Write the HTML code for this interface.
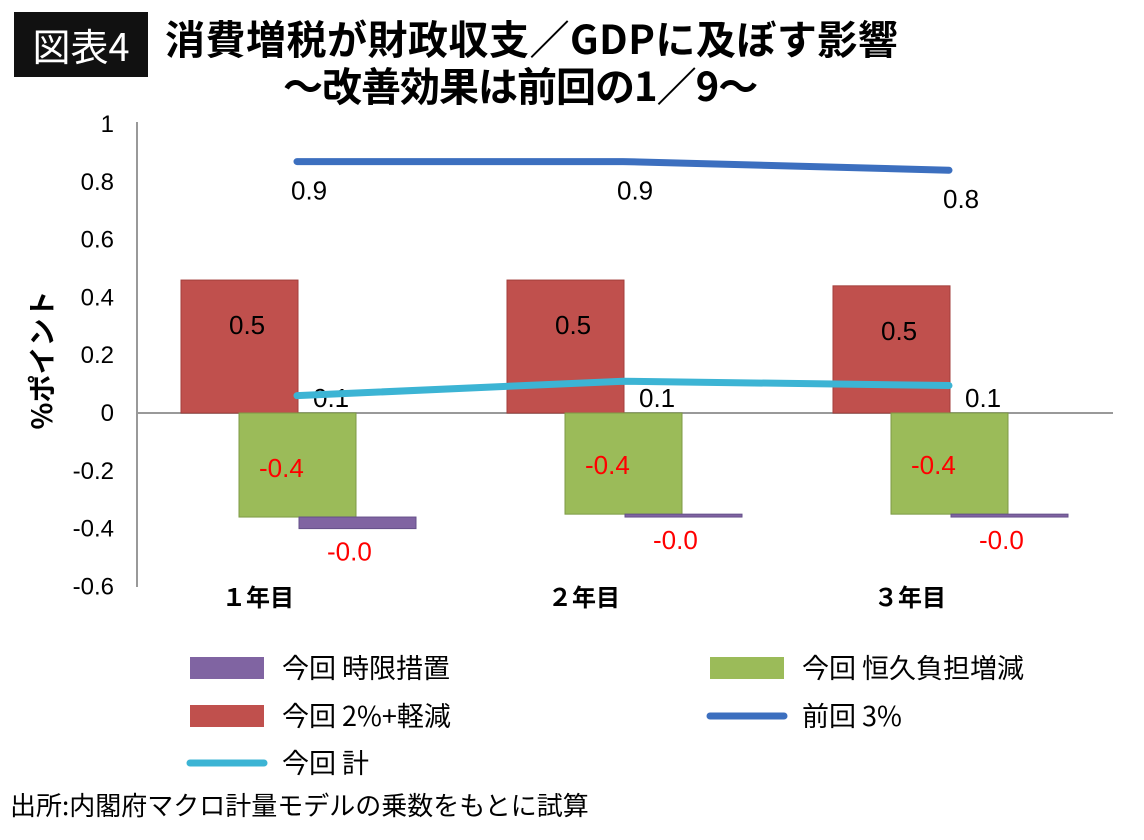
<!DOCTYPE html>
<html><head><meta charset="utf-8"><style>
body{margin:0;width:1144px;height:840px;background:#fff;font-family:"Liberation Sans","Noto Sans CJK JP",sans-serif;overflow:hidden;position:relative}
.t{position:absolute;white-space:nowrap}
</style></head><body>
<div class="t" style="left:14px;top:12px;width:134px;height:65px;background:#111;color:#fff;font-size:38px;line-height:65px;text-align:center;font-family:'Noto Sans CJK JP',sans-serif">図表4</div>
<div class="t" style="left:165px;top:13px;font-size:40px;font-weight:bold;font-family:'Noto Sans CJK JP',sans-serif;line-height:48px;letter-spacing:0.5px">消費増税が財政収支／GDPに及ぼす影響</div>
<div class="t" style="left:283px;top:61px;font-size:40px;font-weight:bold;font-family:'Noto Sans CJK JP',sans-serif;line-height:46px;letter-spacing:-1px">～改善効果は前回の1／9～</div>
<svg id="c" width="1144" height="840" style="position:absolute;left:0;top:0"></svg>
<div class="t" style="left:10px;top:786px;font-size:26px;font-family:'Noto Sans CJK JP',sans-serif">出所:内閣府マクロ計量モデルの乗数をもとに試算</div>
<script>
const categories=["１年目","２年目","３年目"];
const red=[0.46,0.46,0.44];
const green=[-0.36,-0.35,-0.35];
const purple=[-0.04,-0.01,-0.01];
const prev=[0.87,0.87,0.84];
const total=[0.06,0.11,0.095];
const prevLbl=["0.9","0.9","0.8"],redLbl=["0.5","0.5","0.5"],greenLbl=["-0.4","-0.4","-0.4"],purpleLbl=["-0.0","-0.0","-0.0"],totalLbl=["0.1","0.1","0.1"];
const yTicks=[1,0.8,0.6,0.4,0.2,0,-0.2,-0.4,-0.6];
const NS="http://www.w3.org/2000/svg",svg=document.getElementById('c');
const y=v=>413-v*289;
const gx=i=>181+i*326;
function el(t,a,p){const e=document.createElementNS(NS,t);for(const k in a)e.setAttribute(k,a[k]);(p||svg).appendChild(e);return e;}
function txt(x,yy,s,o){const e=el('text',Object.assign({x:x,y:yy,'font-size':26,'font-family':'Liberation Sans, sans-serif'},o||{}));e.textContent=s;return e;}
let a=el('line',{x1:137,y1:122,x2:137,y2:587,stroke:'#999','stroke-width':2});

a=el('line',{x1:137,y1:y(0),x2:1113,y2:y(0),stroke:'#999','stroke-width':2});

yTicks.forEach(v=>{const t=txt(114,y(v)+8,String(v),{'text-anchor':'end','font-size':24});});
let yt=txt(0,0,'%ポイント',{transform:'translate(52,360) rotate(-90)','text-anchor':'middle','font-size':28,'font-weight':'bold','font-family':'Noto Sans CJK JP, sans-serif'});

categories.forEach((c,i)=>{
 const x0=gx(i);
 let r=el('rect',{x:x0,y:y(red[i]),width:117,height:y(0)-y(red[i]),fill:'#c0504d',stroke:'#a33e3b'});
 
 let g=el('rect',{x:x0+58,y:y(0),width:117,height:y(green[i])-y(0),fill:'#9bbb59',stroke:'#7d9a45'});
 
 let p=el('rect',{x:x0+118,y:y(green[i]),width:117,height:y(green[i]+purple[i])-y(green[i]),fill:'#8064a2',stroke:'#65508a'});
 
 let l=txt(x0+48,y(red[i])+54,redLbl[i]);
 l=txt(x0+78,y(green[i])-40,greenLbl[i],{fill:'#f00'});
 l=txt(x0+146,y(green[i]+purple[i])+32,purpleLbl[i],{fill:'#f00'});
 l=txt(x0+110,y(prev[i])+38,prevLbl[i]);
 l=txt(x0+132,y(0)-6,totalLbl[i]);
 l=txt(x0+77,606,c,{'text-anchor':'middle','font-weight':'bold','font-size':24,'font-family':'Noto Sans CJK JP, sans-serif'});
});
let pl=el('polyline',{points:prev.map((v,i)=>(gx(i)+116)+','+y(v)).join(' '),fill:'none',stroke:'#3c6fbf','stroke-width':7,'stroke-linecap':'round'});

pl=el('polyline',{points:total.map((v,i)=>(gx(i)+116)+','+y(v)).join(' '),fill:'none',stroke:'#3cb4d4','stroke-width':7,'stroke-linecap':'round'});

const legend=[["今回 時限措置","#8064a2","bar",190,668],["今回 恒久負担増減","#9bbb59","bar",710,668],["今回 2%+軽減","#c0504d","bar",190,716],["前回 3%","#3c6fbf","line",710,716],["今回 計","#3cb4d4","line",190,763]];
legend.forEach(L=>{
 let s;
 if(L[2]=='bar')s=el('rect',{x:L[3],y:L[4]-11,width:74,height:22,fill:L[1]});
 else s=el('line',{x1:L[3],y1:L[4],x2:L[3]+74,y2:L[4],stroke:L[1],'stroke-width':7,'stroke-linecap':'round'});
 
 const t=txt(L[3]+92,L[4]+10,L[0],{'font-size':27,'font-family':'Noto Sans CJK JP, sans-serif'});
 
});
</script>
</body></html>
